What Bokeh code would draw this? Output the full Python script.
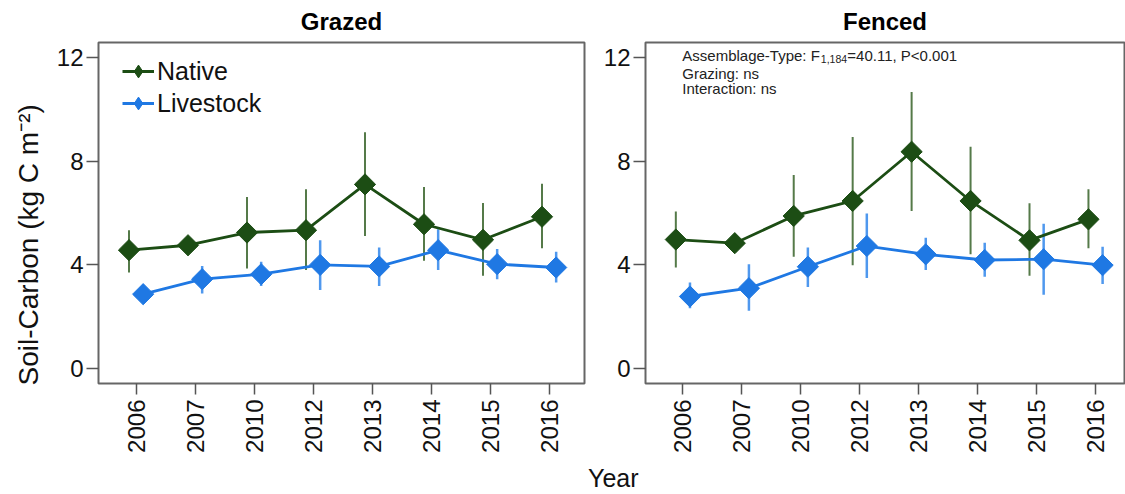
import numpy as np
from bokeh.plotting import figure
from bokeh.models import FixedTicker, Range1d, Legend, LegendItem, Label, Div, ColumnDataSource, Title
from bokeh.layouts import row, column
from bokeh.embed import file_html
from bokeh.resources import INLINE

# ---------------- data ----------------
years = ["2006", "2007", "2010", "2012", "2013", "2014", "2015", "2016"]

grazed_native = [4.56, 4.75, 5.24, 5.33, 7.10, 5.56, 4.96, 5.85]
grazed_native_lo = [3.70, 4.60, 3.85, 3.79, 5.11, 4.15, 3.57, 4.63]
grazed_native_hi = [5.33, 4.90, 6.61, 6.91, 9.11, 7.00, 6.38, 7.12]

grazed_livestock = [2.86, 3.44, 3.63, 3.99, 3.93, 4.56, 4.02, 3.89]
grazed_livestock_lo = [2.72, 2.89, 3.18, 3.02, 3.18, 3.79, 3.44, 3.31]
grazed_livestock_hi = [3.00, 3.95, 4.11, 4.94, 4.66, 5.37, 4.60, 4.50]

fenced_native = [4.97, 4.83, 5.88, 6.46, 8.36, 6.46, 4.94, 5.75]
fenced_native_lo = [3.89, 4.68, 4.31, 3.98, 6.07, 4.40, 3.57, 4.63]
fenced_native_hi = [6.05, 4.98, 7.46, 8.93, 10.67, 8.55, 6.37, 6.91]

fenced_livestock = [2.77, 3.09, 3.92, 4.72, 4.40, 4.18, 4.21, 3.98]
fenced_livestock_lo = [2.32, 2.22, 3.14, 3.48, 3.79, 3.53, 2.84, 3.25]
fenced_livestock_hi = [3.31, 4.02, 4.66, 5.98, 5.04, 4.85, 5.58, 4.69]

y_ticks = [0, 4, 8, 12]
series_names = ["Native", "Livestock"]

# ---------------- style ----------------
FONT = "Liberation Sans"
NATIVE_COL = "#1c4d14"
NATIVE_ERR = "#557a49"
LIVE_COL = "#1f78e3"
LIVE_ERR = "#4f98ee"
DODGE = 0.12

pos = np.arange(1, len(years) + 1)


def make_panel(title, native, nlo, nhi, live, llo, lhi, width, border_left,
               border_right, x_start, x_end):
    p = figure(width=width, height=462, output_backend="svg", toolbar_location=None,
               x_range=Range1d(x_start, x_end), y_range=Range1d(-0.59, 12.58),
               min_border_left=border_left, min_border_right=border_right,
               min_border_top=41, min_border_bottom=79)
    p.title.text = title
    p.title.align = "center"
    p.title.vertical_align = "middle"
    p.title.text_font = FONT
    p.title.text_font_size = "24px"
    p.title.text_font_style = "bold"
    p.title.text_color = "#000000"
    p.title.standoff = 13
    p.grid.visible = False
    p.background_fill_color = "white"
    p.border_fill_color = "white"
    p.outline_line_color = "#666666"
    p.outline_line_width = 2

    for ax in (p.xaxis[0], p.yaxis[0]):
        ax.axis_line_color = None
        ax.major_tick_line_color = "#555555"
        ax.major_tick_line_width = 1.5
        ax.major_tick_in = 0
        ax.minor_tick_line_color = None
        ax.major_label_text_font = FONT
        ax.major_label_text_font_size = "24px"
        ax.major_label_text_color = "#111111"

    p.xaxis.ticker = FixedTicker(ticks=list(pos))
    p.xaxis.major_label_overrides = {int(i): y for i, y in zip(pos, years)}
    p.xaxis.major_label_orientation = np.pi / 2
    p.xaxis.major_tick_out = 11
    p.xaxis.major_label_standoff = 5

    p.yaxis.ticker = FixedTicker(ticks=y_ticks)
    p.yaxis.major_tick_out = 12
    p.yaxis.major_label_standoff = 3

    xn = pos - DODGE
    xl = pos + DODGE
    src_n = ColumnDataSource(dict(x=xn, y=native, lo=nlo, hi=nhi))
    src_l = ColumnDataSource(dict(x=xl, y=live, lo=llo, hi=lhi))

    p.segment(x0="x", y0="lo", x1="x", y1="hi", source=src_n,
              line_color=NATIVE_ERR, line_width=2)
    p.segment(x0="x", y0="lo", x1="x", y1="hi", source=src_l,
              line_color=LIVE_ERR, line_width=2.5)
    ln = p.line("x", "y", source=src_n, line_color=NATIVE_COL, line_width=2.8)
    ll = p.line("x", "y", source=src_l, line_color=LIVE_COL, line_width=2.8)
    p.scatter("x", "y", source=src_n, marker="square", angle=np.pi / 4, size=15,
              fill_color=NATIVE_COL, line_color=NATIVE_COL)
    p.scatter("x", "y", source=src_l, marker="square", angle=np.pi / 4, size=15,
              fill_color=LIVE_COL, line_color=LIVE_COL)
    # legend-only diamond glyphs (hidden in the plot area)
    dn = p.scatter(x=[xn[0]], y=[native[0]], marker="diamond", size=15,
                   fill_color=NATIVE_COL, line_color=NATIVE_COL, visible=False)
    dl = p.scatter(x=[xl[0]], y=[live[0]], marker="diamond", size=15,
                   fill_color=LIVE_COL, line_color=LIVE_COL, visible=False)
    return p, (ln, dn), (ll, dl)


p1, n1, l1 = make_panel("Grazed", grazed_native, grazed_native_lo, grazed_native_hi,
                        grazed_livestock, grazed_livestock_lo, grazed_livestock_hi,
                        width=600, border_left=98, border_right=16,
                        x_start=0.363, x_end=0.363 + 486 / 59.0)

p2, n2, l2 = make_panel("Fenced", fenced_native, fenced_native_lo, fenced_native_hi,
                        fenced_livestock, fenced_livestock_lo, fenced_livestock_hi,
                        width=525, border_left=44, border_right=1,
                        x_start=0.3655, x_end=0.3655 + 480 / 59.07)

# y-axis title, anchored near the bottom of the frame like the original
ytitle = Title(text="Soil-Carbon (kg C m\u207b\u00b2)", align="left", offset=-2,
               vertical_align="bottom", standoff=20, text_font=FONT,
               text_font_size="28px", text_font_style="normal", text_color="#111111")
p1.add_layout(ytitle, "left")

legend = Legend(items=[LegendItem(label=series_names[0], renderers=list(n1)),
                       LegendItem(label=series_names[1], renderers=list(l1))],
                location=(24, 264), margin=0, padding=0, spacing=0,
                glyph_width=32, glyph_height=32, label_height=30,
                label_standoff=3, label_text_font=FONT, label_text_font_size="25px",
                label_text_color="#111111",
                background_fill_alpha=0, border_line_color=None)
p1.add_layout(legend)

# statistics annotation (right panel)
ann_x = 0.99
fs = 15
p2.add_layout(Label(x=ann_x, y=12.06, text="Assemblage-Type: F", text_font=FONT,
                    text_font_size=f"{fs}px", text_color="#222222", text_baseline="alphabetic"))
p2.add_layout(Label(x=ann_x, y=12.06, x_offset=138.5, y_offset=-3, text="1,184", text_font=FONT,
                    text_font_size="10.5px", text_color="#222222", text_baseline="alphabetic"))
p2.add_layout(Label(x=ann_x, y=12.06, x_offset=165, text="=40.11, P<0.001", text_font=FONT,
                    text_font_size=f"{fs}px", text_color="#222222", text_baseline="alphabetic"))
p2.add_layout(Label(x=ann_x, y=11.40, text="Grazing: ns", text_font=FONT,
                    text_font_size=f"{fs}px", text_color="#222222", text_baseline="alphabetic"))
p2.add_layout(Label(x=ann_x, y=10.79, text="Interaction: ns", text_font=FONT,
                    text_font_size=f"{fs}px", text_color="#222222", text_baseline="alphabetic"))

xlabel = Div(text="Year", width=80, height=32, margin=(0, 0, 0, 588),
             styles={"font-family": FONT, "font-size": "25px", "color": "#111111",
                     "line-height": "32px"})

layout = column(row(p1, p2, spacing=0), xlabel, spacing=0)

with open("out.html", "w") as f:
    f.write(file_html(layout, INLINE, title="Soil carbon"))
